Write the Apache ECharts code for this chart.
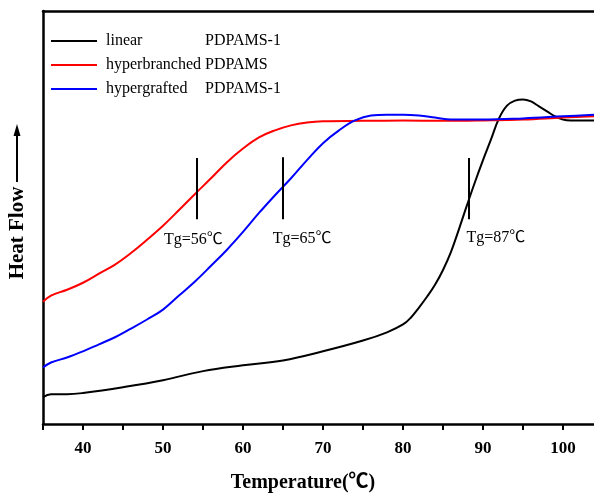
<!DOCTYPE html>
<html>
<head>
<meta charset="utf-8">
<script src="https://cdn.jsdelivr.net/npm/echarts@6/dist/echarts.min.js"></script>
<style>
  html, body { margin: 0; padding: 0; background: #fff; }
  #chart { width: 594px; height: 493px; }
</style>
</head>
<body>
<div id="chart"></div>
<script>
// DSC curves (heat flow in arbitrary units, 0..100)
const linearT = [35, 36, 38, 40, 45, 50, 55, 60, 65, 70, 75, 78, 80, 81, 82, 83, 84, 85, 86, 87, 88, 89, 90, 91, 92, 93, 94, 95, 96, 97, 98, 99, 100, 101, 102, 105];
const linearV = [6.5, 7.2, 7.2, 7.5, 8.9, 10.6, 12.8, 14.2, 15.4, 17.6, 20.2, 22.2, 24.1, 25.8, 28.2, 30.8, 33.7, 37.3, 41.7, 47.2, 53.0, 58.6, 63.9, 68.9, 74.0, 77.1, 78.3, 78.6, 78.1, 76.9, 75.7, 74.5, 73.7, 73.5, 73.5, 73.5];

const hbT = [35, 36, 38, 40, 42, 44, 46, 48, 50, 52, 54, 56, 58, 60, 62, 64, 66, 68, 70, 75, 80, 85, 90, 95, 100, 105];
const hbV = [29.6, 31.1, 32.5, 34.2, 36.4, 38.6, 41.4, 44.6, 48.0, 51.8, 55.7, 59.5, 63.4, 66.7, 69.4, 71.1, 72.3, 73.0, 73.3, 73.4, 73.5, 73.4, 73.5, 73.7, 74.2, 74.6];

const hgT = [35, 36, 38, 40, 42, 44, 46, 48, 50, 52, 54, 56, 58, 60, 62, 64, 66, 68, 70, 72, 74, 76, 78, 80, 82, 84, 86, 88, 90, 95, 100, 105];
const hgV = [13.7, 14.9, 16.1, 17.6, 19.3, 21.0, 23.1, 25.3, 27.7, 31.1, 34.5, 38.3, 42.2, 46.5, 51.1, 55.4, 59.5, 63.9, 68.0, 71.1, 73.5, 74.7, 74.9, 74.9, 74.7, 74.2, 73.7, 73.7, 73.7, 74.0, 74.5, 75.0];

const seriesNames = ['linear PDPAMS-1', 'hyperbranched PDPAMS', 'hypergrafted PDPAMS-1'];
const legendLeft = ['linear', 'hyperbranched', 'hypergrafted'];
const legendRight = ['PDPAMS-1', 'PDPAMS', 'PDPAMS-1'];
const seriesColors = ['#000000', '#ff0000', '#0000ff'];

// Tg marks
const tgTemp = [54.25, 65, 88.25];
const tgLow = [49.6, 49.6, 49.6];
const tgHigh = [64.4, 64.6, 64.4];
const tgLabelT = [53.8, 67.4, 91.6];
const tgLabelV = [44.6, 44.8, 45.0];
const tgLabels = ['Tg=56℃', 'Tg=65℃', 'Tg=87℃'];

const xTicks = [40, 50, 60, 70, 80, 90, 100];

const serif = '"Liberation Serif", "Times New Roman", "Noto Sans CJK SC", serif';

function pairs(xs, ys) {
  return xs.map((x, i) => [x, ys[i]]);
}

const curves = [pairs(linearT, linearV), pairs(hbT, hbV), pairs(hgT, hgV)];

const series = curves.map((d, i) => ({
  name: seriesNames[i],
  type: 'line',
  data: d,
  smooth: 0.4,
  showSymbol: false,
  symbol: 'none',
  lineStyle: { color: seriesColors[i], width: 2 },
  itemStyle: { color: seriesColors[i] },
  z: 3 + i
}));

tgTemp.forEach((t, i) => {
  series.push({
    name: 'tg' + i,
    type: 'line',
    data: [[t, tgLow[i]], [t, tgHigh[i]]],
    symbol: 'none',
    lineStyle: { color: '#000', width: 2 },
    z: 10
  });
});

series.push({
  name: 'tgLabels',
  type: 'scatter',
  symbolSize: 0,
  itemStyle: { opacity: 1, color: '#000' },
  data: tgLabelT.map((t, i) => ({ value: [t, tgLabelV[i]], label: { formatter: tgLabels[i] } })),
  label: {
    show: true,
    position: 'inside',
    color: '#000',
    fontFamily: serif,
    fontSize: 16
  },
  z: 10
});

const chart = echarts.init(document.getElementById('chart'));
chart.setOption({
  animation: false,
  backgroundColor: '#fff',
  grid: {
    left: 43,
    top: 11,
    right: -9,
    bottom: 69,
    outerBoundsMode: 'none'
  },
  legend: {
    data: seriesNames,
    orient: 'vertical',
    left: 46,
    top: 28,
    icon: 'rect',
    itemWidth: 46,
    itemHeight: 2,
    itemGap: 8,
    textStyle: {
      fontFamily: serif,
      fontSize: 16,
      color: '#000',
      padding: [0, 0, 0, 4],
      rich: {
        a: { width: 99, fontFamily: serif, fontSize: 16, color: '#000' },
        b: { fontFamily: serif, fontSize: 16, color: '#000' }
      }
    },
    formatter: function (name) {
      const i = seriesNames.indexOf(name);
      return '{a|' + legendLeft[i] + '}{b|' + legendRight[i] + '}';
    }
  },
  xAxis: [{
    type: 'value',
    min: 35,
    max: 105,
    interval: 5,
    name: 'Temperature(℃)',
    nameLocation: 'middle',
    nameGap: 49,
    nameTextStyle: {
      fontFamily: serif,
      fontSize: 20,
      fontWeight: 'bold',
      color: '#000',
      padding: [0, 40, 0, 0]
    },
    axisLine: { lineStyle: { color: '#000', width: 2.5 } },
    axisTick: { show: true, length: 6, lineStyle: { color: '#000', width: 2 } },
    axisLabel: {
      color: '#000',
      fontFamily: serif,
      fontSize: 17,
      fontWeight: 'bold',
      margin: 16,
      formatter: function (v) {
        return xTicks.indexOf(v) >= 0 ? String(v) : '';
      }
    },
    splitLine: { show: false }
  }, {
    type: 'value',
    position: 'top',
    min: 35,
    max: 105,
    axisLine: { show: true, lineStyle: { color: '#000', width: 2.5 } },
    axisTick: { show: false },
    axisLabel: { show: false },
    splitLine: { show: false }
  }],
  yAxis: {
    type: 'value',
    min: 0,
    max: 100,
    axisLine: { show: true, lineStyle: { color: '#000', width: 2.5 } },
    axisTick: { show: false },
    axisLabel: { show: false },
    splitLine: { show: false }
  },
  graphic: [
    {
      type: 'text',
      x: 18,
      y: 233,
      rotation: Math.PI / 2,
      style: {
        text: 'Heat Flow',
        font: 'bold 21px ' + serif,
        fill: '#000',
        textAlign: 'center',
        textVerticalAlign: 'middle'
      }
    },
    {
      type: 'line',
      shape: { x1: 17, y1: 182, x2: 17, y2: 132 },
      style: { stroke: '#000', lineWidth: 2 }
    },
    {
      type: 'polygon',
      shape: { points: [[17, 124], [13.5, 136], [20.5, 136]] },
      style: { fill: '#000' }
    }
  ],
  series: series
});
</script>
</body>
</html>
